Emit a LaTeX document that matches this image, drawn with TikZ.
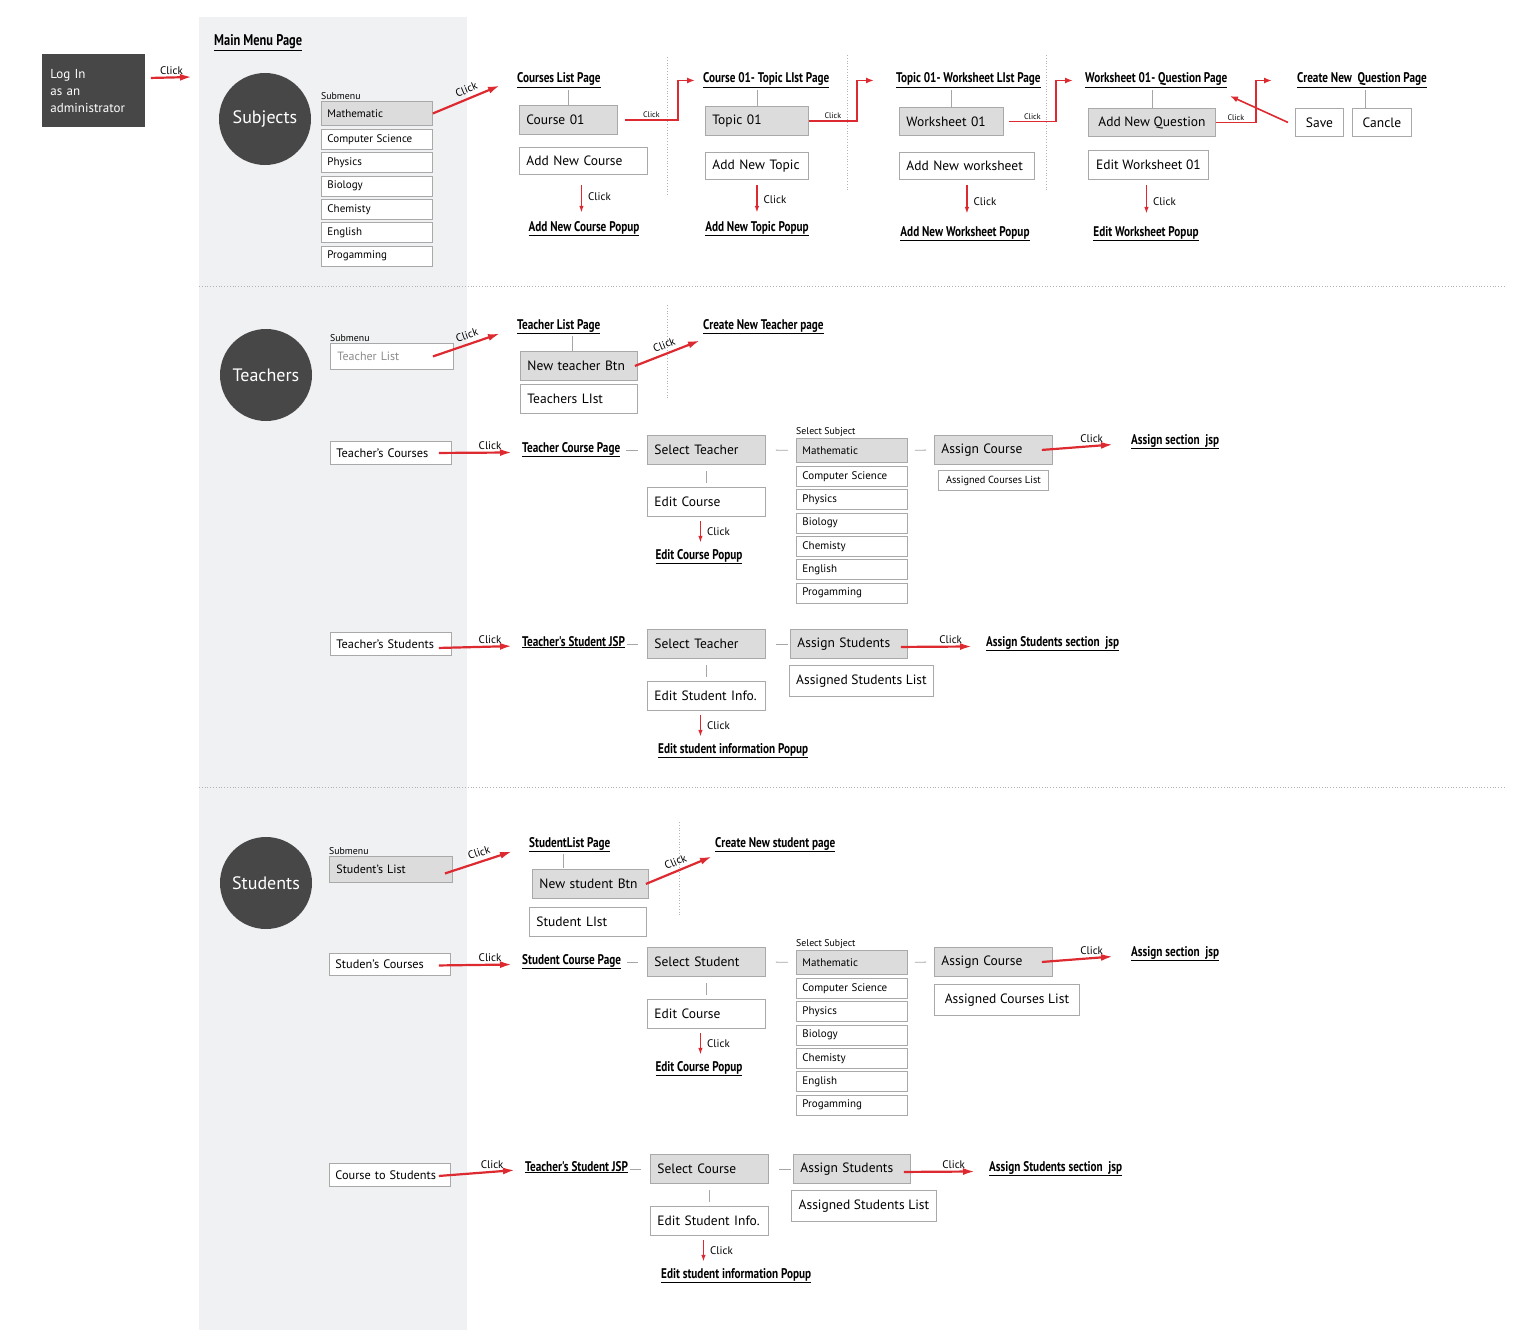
\documentclass[tikz,border=0pt]{standalone}
\usepackage{fontspec}
\setmainfont{PT Sans}
\newfontfamily\headfont[FakeStretch=0.8]{PT Sans}
\usetikzlibrary{arrows.meta}

\definecolor{dark}{HTML}{474747}
\definecolor{btngray}{HTML}{DCDCDC}
\definecolor{boxline}{HTML}{A9A9A9}
\definecolor{clickred}{HTML}{DD2A30}
\definecolor{panel}{HTML}{F0F1F3}

\tikzset{sz/.style 2 args={text width=#1, minimum height=#2},
    mw/.style 2 args={minimum width=#1, minimum height=#2}}

\begin{document}
\begin{tikzpicture}[x=1pt,y=-1pt,
    box/.style={draw=boxline, line width=0.9pt, fill=white, anchor=north west, inner xsep=7pt, inner ysep=1pt, font=\fontsize{13.5}{16}\selectfont},
    btn/.style={box, fill=btngray},
    item/.style={box, inner xsep=6pt, font=\fontsize{11}{13}\selectfont},
    row/.style={box, inner xsep=6pt, font=\fontsize{12.3}{14}\selectfont},
    head/.style={anchor=base west, inner sep=2pt, font=\headfont\bfseries\fontsize{14}{16}\selectfont},
    hub/.style={circle, fill=dark, text=white, minimum size=92pt, inner sep=0pt, font=\fontsize{18}{20}\selectfont},
    note/.style={anchor=south west, inner xsep=0pt, inner ysep=1.5pt, font=\fontsize{9.8}{11}\selectfont},
    click/.style={font=\fontsize{11}{12}\selectfont, inner sep=2pt},
    tiny/.style={font=\fontsize{8}{9}\selectfont, inner sep=1.5pt},
    go/.style={draw=clickred, line width=2.2pt, -{Latex[length=12pt,width=7pt]}},
    jump/.style={draw=clickred, line width=1.6pt, -{Latex[length=8pt,width=6pt]}},
    drop/.style={draw=clickred, line width=1.4pt, -{Latex[length=7pt,width=4.5pt]}},
    tie/.style={draw=gray!70, line width=0.8pt},
    sep/.style={draw=gray!60, line width=0.8pt, dotted}]
    \useasboundingbox (0,0) rectangle (1537,1330);
    \fill[panel] (199,17) rectangle (467,1330);
    \draw[sep] (199,286) -- (1505,286);
    \draw[sep] (199,787) -- (1505,787);
    \draw[sep] (667,57) -- (667,195);
    \draw[sep] (847,55) -- (847,192);
    \draw[sep] (1046,55) -- (1046,192);
    \draw[sep] (667,305) -- (667,398);
    \draw[sep] (679,822) -- (679,915);

    % login and main menu
    \node[box, draw=none, fill=dark, text=white, text width=87pt, minimum height=73pt, inner xsep=8pt, align=left, font=\fontsize{13}{17}\selectfont] (login) at (42,54) {Log In\\as an\\administrator};
    \node[head, font=\headfont\bfseries\fontsize{15.5}{17}\selectfont] (mmp) at (212,46) {\underline{Main Menu Page}};
    \coordinate (mmin) at (192,77);
    \draw[go] ([shift={(5pt,13pt)}]login.east) -- node[click, above]{Click} (mmin);

    \node[hub] (subj) at (265,119) {Subjects};
    \node[hub] (teach) at (266,375) {Teachers};
    \node[hub] (stud) at (266,883) {Students};

    % subject lists
    \foreach \lx/\ly/\ln/\lt in {321/101/sa/Submenu, 796/438/sb/Select Subject, 796/950/sc/Select Subject}{
        \node[item, fill=btngray, sz={99pt}{24pt}] (\ln0) at (\lx,\ly) {Mathematic};
        \node[note] (\ln t) at (\ln0.north west) {\lt};
        \foreach \s [count=\i] in {Computer Science,Physics,Biology,Chemisty,English,Progamming}
            \node[item, sz={99pt}{20pt}] (\ln\i) at (\lx,{\ly+28+(\i-1)*23.3}) {\s};
    }

    % subjects: courses, topics, worksheets, questions
    \node[head] (clp) at (515,83) {\underline{Courses List Page}};
    \node[btn, sz={84pt}{29pt}] (c01) at (519,105) {Course 01};
    \node[box, sz={114pt}{27pt}] (anc) at (519,147) {Add New Course};
    \node[head, anchor=base] (ancp) at (584,231) {\underline{Add New Course Popup}};
    \draw[go] (sa0.east) -- node[click, sloped, above=2pt, pos=0.55]{Click} ([shift={(-15pt,-5pt)}]clp.west);
    \draw[tie] (c01.north) -- (c01.north |- clp.south);
    \draw[drop, shorten <=10pt, shorten >=6pt] ([xshift=-2pt]anc.south) -- ([xshift=-2pt]anc.south |- ancp.north) node[midway, right=4pt, click]{Click};

    \node[head] (tlp) at (701,83) {\underline{Course 01- Topic LIst Page}};
    \node[btn, sz={89pt}{29pt}] (t01) at (705,106) {Topic 01};
    \node[box, sz={89pt}{27pt}] (ant) at (705,152) {Add New Topic};
    \node[head, anchor=base] (antp) at (757,231) {\underline{Add New Topic Popup}};
    \draw[tie] (t01.north) -- (t01.north |- tlp.south);
    \draw[drop, shorten <=5pt, shorten >=6pt] (ant.south) -- (ant.south |- antp.north) node[midway, right=4pt, click]{Click};

    \node[head] (wlp) at (894,83) {\underline{Topic 01- Worksheet LIst Page}};
    \node[btn, sz={90pt}{28pt}] (w01) at (899,107) {Worksheet 01};
    \node[box, sz={121pt}{27pt}] (anw) at (899,152) {Add New worksheet};
    \node[head, anchor=base] (anwp) at (965,236) {\underline{Add New Worksheet Popup}};
    \draw[tie] (w01.north) -- (w01.north |- wlp.south);
    \draw[drop, shorten <=5pt, shorten >=10pt] (anw.south) -- (anw.south |- anwp.north) node[midway, right=4pt, click]{Click};

    \node[head] (qp) at (1083,83) {\underline{Worksheet 01- Question Page}};
    \node[btn, mw={127pt}{28pt}] (anq) at (1088,108) {Add New Question};
    \node[box, mw={120pt}{29pt}] (ew) at (1088,150) {Edit Worksheet 01};
    \node[head, anchor=base] (ewp) at (1146,236) {\underline{Edit Worksheet Popup}};
    \draw[tie] (anq.north) -- (anq.north |- qp.south);
    \draw[drop, shorten <=5pt, shorten >=10pt] ([xshift=-2pt]ew.south) -- ([xshift=-2pt]ew.south |- ewp.north) node[midway, right=4pt, click]{Click};

    \node[head] (cnq) at (1295,83) {\underline{Create New~ Question Page}};
    \node[box, mw={48pt}{28pt}] (save) at (1295,108) {Save};
    \node[box, mw={59pt}{28pt}] (cancle) at (1352,108) {Cancle};
    \draw[tie] ([xshift=13pt]cancle.north west) -- ([xshift=13pt]cancle.north west |- cnq.south);
    \coordinate (qback) at (1230,96);
    \draw[jump] ([xshift=-7pt]save.west) -- (qback);

    % page to page
    \draw[jump] ([xshift=7pt]c01.east) -- node[tiny, above]{Click} ++(53pt,0) |- ([xshift=-6pt]tlp.west);
    \draw[jump] (t01.east) -- node[tiny, above]{Click} ++(48pt,0) |- ([xshift=-20pt]wlp.west);
    \draw[jump] ([xshift=5pt]w01.east) -- node[tiny, above]{Click} ++(47pt,0) |- ([xshift=-10pt]qp.west);
    \draw[jump] (anq.east) -- node[tiny, above]{Click} ++(40pt,0) |- ([xshift=-23pt]cnq.west);

    % teachers: list
    \node[box, text=gray!90, sz={109pt}{26pt}, font=\fontsize{12}{14}\selectfont] (tl) at (330,343) {Teacher List};
    \node[note] (tlt) at (tl.north west) {Submenu};
    \node[head] (tlpg) at (515,329) {\underline{Teacher List Page}};
    \node[btn, sz={103pt}{29pt}] (ntb) at (520,351) {New teacher Btn};
    \node[box, sz={103pt}{29pt}] (tls) at (520,384) {Teachers LIst};
    \node[head] (cntp) at (701,329) {\underline{Create New Teacher page}};
    \draw[go] ([xshift=-21pt]tl.east) -- node[click, sloped, above=2pt, pos=0.55]{Click} ([shift={(-15pt,-7pt)}]tlpg.west);
    \draw[tie] ([xshift=-7pt]ntb.north) -- ++(0,15pt);
    \draw[go] ([xshift=-3pt]ntb.east) -- node[click, sloped, above=2pt, pos=0.5]{Click} ([shift={(-1pt,-14pt)}]cntp.west);

    % teachers: courses
    \node[row, sz={109pt}{23pt}] (tc) at (330,441) {Teacher's Courses};
    \node[head] (tcp) at (520,452) {\underline{Teacher Course Page}};
    \node[btn, sz={104pt}{29pt}] (stt) at (647,435) {Select Teacher};
    \node[box, sz={104pt}{29pt}] (ec) at (647,487) {Edit Course};
    \node[head, anchor=base] (ecp) at (699,559) {\underline{Edit Course Popup}};
    \node[btn, sz={104pt}{29pt}] (ac) at (934,435) {Assign Course};
    \node[item, mw={110pt}{20pt}, inner xsep=3pt, font=\fontsize{10.3}{12}\selectfont] (acl) at (938,470) {Assigned Courses List};
    \node[head] (asj) at (1129,444) {\underline{Assign section~ jsp}};
    \draw[go] ([xshift=-13pt]tc.east) -- node[click, above, pos=0.7]{Click} ([shift={(-8pt,-3pt)}]tcp.west);
    \draw[tie, shorten <=4pt, shorten >=9pt] (tcp.east |- stt.west) -- (stt.west);
    \draw[tie, shorten <=6pt, shorten >=4pt] (stt.south) -- (ec.north);
    \draw[drop, shorten <=4pt, shorten >=4pt] ([xshift=-6pt]ec.south) -- ([xshift=-6pt]ec.south |- ecp.north) node[midway, right=4pt, click]{Click};
    \draw[tie, shorten <=10pt, shorten >=8pt] (stt.east) -- (sb0.west);
    \draw[tie, shorten <=7pt, shorten >=8pt] (sb0.east) -- (ac.west);
    \draw[go] ([xshift=-11pt]ac.east) -- node[click, above, pos=0.7]{Click} ([shift={(-16pt,-3pt)}]asj.west);

    % teachers: students
    \node[row, sz={109pt}{23pt}] (ts) at (330,632) {Teacher's Students};
    \node[head] (tsj) at (520,646) {\underline{Teacher's Student JSP}};
    \node[btn, sz={104pt}{29pt}] (stt2) at (647,629) {Select Teacher};
    \node[box, sz={104pt}{29pt}] (esi) at (647,681) {Edit Student Info.};
    \node[head] (esip) at (656,753) {\underline{Edit student information Popup}};
    \node[btn, sz={103pt}{29pt}] (as) at (790,629) {Assign Students};
    \node[box, mw={144pt}{31pt}, inner xsep=4pt] (asl) at (789,665) {Assigned Students List};
    \node[head] (assj) at (984,646) {\underline{Assign Students section~ jsp}};
    \draw[go] ([shift={(-13pt,-4pt)}]ts.east) -- node[click, above, pos=0.7]{Click} ([shift={(-8pt,-4pt)}]tsj.west);
    \draw[tie, shorten >=9pt] (tsj.east |- stt2.west) -- (stt2.west);
    \draw[tie, shorten <=6pt, shorten >=4pt] (stt2.south) -- (esi.north);
    \draw[drop, shorten <=4pt, shorten >=4pt] ([xshift=-6pt]esi.south) -- ([xshift=-6pt]esi.south |- esip.north) node[midway, right=4pt, click]{Click};
    \draw[tie, shorten <=10pt, shorten >=2pt] (stt2.east) -- (as.west);
    \draw[go] ([shift={(-7pt,-3pt)}]as.east) -- node[click, above, pos=0.7]{Click} ([shift={(-12pt,-3pt)}]assj.west);

    % students: list
    \node[btn, sz={109pt}{26pt}, font=\fontsize{12}{14}\selectfont] (sl) at (329,856) {Student's List};
    \node[note] (slt) at (sl.north west) {Submenu};
    \node[head] (slp) at (527,847) {\underline{StudentList Page}};
    \node[btn, sz={102pt}{29pt}] (nsb) at (532,869) {New student Btn};
    \node[box, sz={103pt}{29pt}] (sls) at (529,907) {Student LIst};
    \node[head] (cnsp) at (713,847) {\underline{Create New student page}};
    \draw[go] ([shift={(-8pt,-4pt)}]sl.east) -- node[click, sloped, above=2pt, pos=0.55]{Click} ([shift={(-15pt,-7pt)}]slp.west);
    \draw[tie] (slp.south -| 563,0) -- ++(0,-14pt);
    \draw[go] ([xshift=-3pt]nsb.east) -- node[click, sloped, above=2pt, pos=0.5]{Click} ([shift={(-1pt,-12pt)}]cnsp.west);

    % students: courses
    \node[row, sz={109pt}{22pt}] (sc) at (329,953) {Studen's Courses};
    \node[head] (scp) at (520,964) {\underline{Student Course Page}};
    \node[btn, sz={104pt}{29pt}] (sst) at (647,947) {Select Student};
    \node[box, sz={104pt}{29pt}] (ec2) at (647,999) {Edit Course};
    \node[head, anchor=base] (ecp2) at (699,1071) {\underline{Edit Course Popup}};
    \node[btn, sz={104pt}{29pt}] (ac2) at (934,947) {Assign Course};
    \node[box, mw={145pt}{31pt}, inner xsep=4pt] (acl2) at (934,984) {Assigned Courses List};
    \node[head] (asj2) at (1129,956) {\underline{Assign section~ jsp}};
    \draw[go] ([shift={(-12pt,-1pt)}]sc.east) -- node[click, above, pos=0.7]{Click} ([shift={(-8pt,-3pt)}]scp.west);
    \draw[tie, shorten <=4pt, shorten >=9pt] (scp.east |- sst.west) -- (sst.west);
    \draw[tie, shorten <=6pt, shorten >=4pt] (sst.south) -- (ec2.north);
    \draw[drop, shorten <=4pt, shorten >=4pt] ([xshift=-6pt]ec2.south) -- ([xshift=-6pt]ec2.south |- ecp2.north) node[midway, right=4pt, click]{Click};
    \draw[tie, shorten <=10pt, shorten >=8pt] (sst.east) -- (sc0.west);
    \draw[tie, shorten <=7pt, shorten >=8pt] (sc0.east) -- (ac2.west);
    \draw[go] ([xshift=-11pt]ac2.east) -- node[click, above, pos=0.7]{Click} ([shift={(-16pt,-3pt)}]asj2.west);

    % students: course to students
    \node[row, sz={109pt}{23pt}] (cs) at (329,1163) {Course to Students};
    \node[head] (tsj2) at (523,1171) {\underline{Teacher's Student JSP}};
    \node[btn, sz={104pt}{29pt}] (scs) at (650,1154) {Select Course};
    \node[box, sz={104pt}{29pt}] (esi2) at (650,1206) {Edit Student Info.};
    \node[head] (esip2) at (659,1278) {\underline{Edit student information Popup}};
    \node[btn, sz={103pt}{29pt}] (as2) at (793,1154) {Assign Students};
    \node[box, mw={145pt}{31pt}, inner xsep=4pt] (asl2) at (791,1190) {Assigned Students List};
    \node[head] (assj2) at (987,1171) {\underline{Assign Students section~ jsp}};
    \draw[go] ([shift={(-12pt,-1pt)}]cs.east) -- node[click, above, pos=0.7]{Click} ([shift={(-8pt,-3pt)}]tsj2.west);
    \draw[tie, shorten >=9pt] (tsj2.east |- scs.west) -- (scs.west);
    \draw[tie, shorten <=6pt, shorten >=4pt] (scs.south) -- (esi2.north);
    \draw[drop, shorten <=4pt, shorten >=4pt] ([xshift=-6pt]esi2.south) -- ([xshift=-6pt]esi2.south |- esip2.north) node[midway, right=4pt, click]{Click};
    \draw[tie, shorten <=10pt, shorten >=2pt] (scs.east) -- (as2.west);
    \draw[go] ([shift={(-7pt,-3pt)}]as2.east) -- node[click, above, pos=0.7]{Click} ([shift={(-12pt,-3pt)}]assj2.west);
\end{tikzpicture}
\end{document}
